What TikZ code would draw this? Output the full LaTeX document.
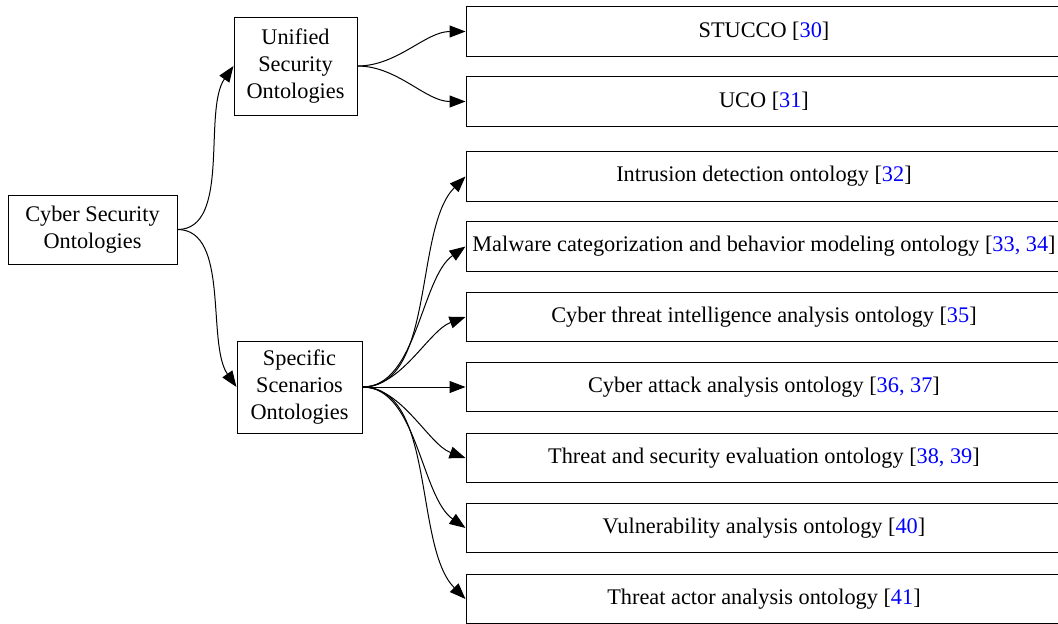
\documentclass[tikz,border=0pt]{standalone}
\usepackage{fontspec}
\setmainfont{Liberation Serif}
\usetikzlibrary{arrows.meta}
\definecolor{refblue}{RGB}{0,0,255}
\newcommand{\refs}[1]{[\textcolor{refblue}{#1}]}

\begin{document}
\begin{tikzpicture}[x=1pt, y=-1pt,
		box/.style={draw, line width=1pt, align=center, inner sep=0pt, font=\fontsize{22.3}{27}\selectfont},
		leaf/.style={box, minimum width=596pt, minimum height=49.5pt},
		link/.style={-{Triangle[length=16pt, width=12pt]}, line width=1pt}]
		\useasboundingbox (0,0) rectangle (1058,624);
		\clip (0,0) rectangle (1058,624);

		% left side
		\node[box, minimum width=169pt, minimum height=69pt] (cso) at (92.5,229.5) {Cyber Security\\Ontologies};
		\node[box, minimum width=123pt, minimum height=98pt] (uso) at (295.5,66) {Unified\\Security\\Ontologies};
		\node[box, minimum width=125pt, minimum height=92pt] (sso) at (299.5,387) {Specific\\Scenarios\\Ontologies};

		% leaves
		\node[leaf] (stucco) at (764,31.5) {STUCCO \refs{30}};
		\node[leaf] (uco) at (764,101.5) {UCO \refs{31}};
		\node[leaf] (intr) at (764,176.5) {Intrusion detection ontology \refs{32}};
		\node[leaf] (malw) at (764,246.5) {Malware categorization and behavior modeling ontology \refs{33, 34}};
		\node[leaf] (cti) at (764,317) {Cyber threat intelligence analysis ontology \refs{35}};
		\node[leaf] (atk) at (764,387) {Cyber attack analysis ontology \refs{36, 37}};
		\node[leaf] (tse) at (764,458) {Threat and security evaluation ontology \refs{38, 39}};
		\node[leaf] (vuln) at (764,528) {Vulnerability analysis ontology \refs{40}};
		\node[leaf] (actor) at (764,599) {Threat actor analysis ontology \refs{41}};

		% edges
		\draw[link] (cso.east) to[out=0, in=235, looseness=0.8] (uso.west);
		\draw[link] (cso.east) to[out=0, in=125, looseness=0.8] (sso.west);
		\draw[link] (uso.east) to[out=0, in=180, looseness=0.9] (stucco.west);
		\draw[link] (uso.east) to[out=0, in=180, looseness=0.9] (uco.west);
		\draw[link] (sso.east) to[out=0, in=225, looseness=0.8] (intr.west);
		\draw[link] (sso.east) to[out=0, in=215, looseness=0.8] (malw.west);
		\draw[link] (sso.east) to[out=0, in=200, looseness=0.8] (cti.west);
		\draw[link] (sso.east) -- (atk.west);
		\draw[link] (sso.east) to[out=0, in=160, looseness=0.8] (tse.west);
		\draw[link] (sso.east) to[out=0, in=145, looseness=0.8] (vuln.west);
		\draw[link] (sso.east) to[out=0, in=135, looseness=0.8] (actor.west);

	\end{tikzpicture}
\end{document}
